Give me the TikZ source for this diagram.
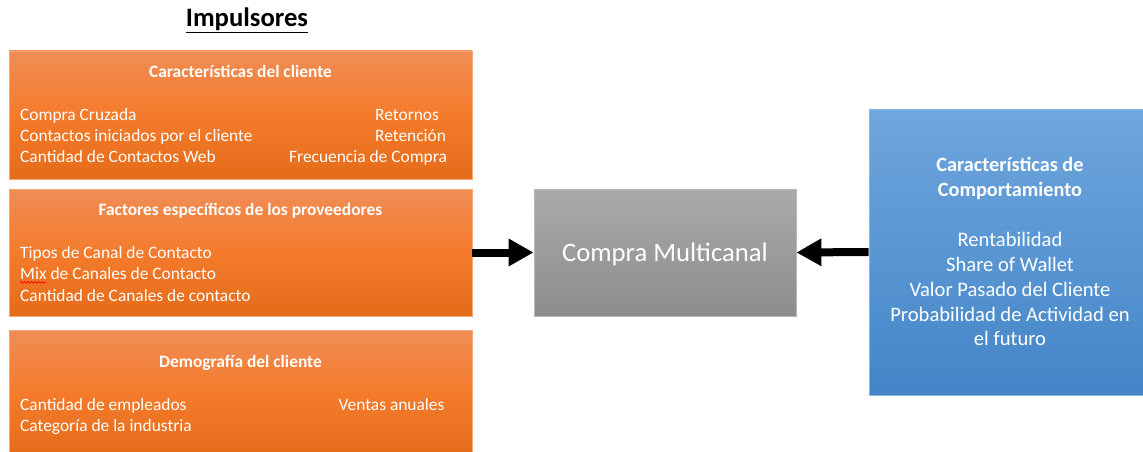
\documentclass[tikz,border=0pt]{standalone}
\usepackage{fontspec}
\setmainfont{Carlito}
\usetikzlibrary {arrows.meta}
\usetikzlibrary{decorations.pathmorphing}
\definecolor{naranjaalto}{HTML}{F08D55}
\definecolor{naranjamedio}{HTML}{F47B2B}
\definecolor{naranjabajo}{HTML}{E46C19}
\definecolor{naranjaborde}{HTML}{F5A77A}
\definecolor{grisalto}{HTML}{AAAAAA}
\definecolor{grisbajo}{HTML}{8D8D8D}
\definecolor{grisborde}{HTML}{B8B8B8}
\definecolor{azulalto}{HTML}{6FA6DD}
\definecolor{azulbajo}{HTML}{4385C7}
\definecolor{azulborde}{HTML}{8DB8E6}

\begin{document}
\begin{tikzpicture}[x=1pt,y=1pt,
		cajanaranja/.style={rectangle, inner sep=0pt, draw=naranjaborde, line width=0.8pt, top color=naranjaalto, bottom color=naranjabajo, middle color=naranjamedio},
		cajagris/.style={rectangle, inner sep=0pt, draw=grisborde, line width=0.8pt, top color=grisalto, bottom color=grisbajo},
		cajaazul/.style={rectangle, inner sep=0pt, draw=azulborde, line width=0.8pt, top color=azulalto, bottom color=azulbajo},
		encabezado/.style={text=white, inner sep=0pt, anchor=base, font=\bfseries\fontsize{17.4}{21}\selectfont},
		texto/.style={text=white, inner sep=0pt, anchor=base west, font=\fontsize{17.4}{21}\selectfont},
		textoazul/.style={text=white, inner sep=0pt, anchor=base, font=\fontsize{20.6}{25}\selectfont},
		flecha/.style={-{Triangle[length=25pt,width=26pt]}, line width=8pt},
		ondulado/.style={red, line width=0.7pt, decorate, decoration={snake, amplitude=0.9pt, segment length=3.5pt}}]
			\useasboundingbox (0,0) rectangle (1143,-452);

			% impulsores
			\node[inner sep=0pt, anchor=base, font=\bfseries\fontsize{26.67}{30}\selectfont] (titulo) at (247,-27) {\underline{Impulsores}};

			\node[cajanaranja, minimum width=463pt, minimum height=128pt] (cliente) at (240.5,-115) {};
			\node[encabezado] (tcliente) at (240.5,-77.3) {Características del cliente};
			\node[texto] (cruzada) at (20,-120.5) {Compra Cruzada};
			\node[texto] (iniciados) at (20,-141.5) {Contactos iniciados por el cliente};
			\node[texto] (web) at (20,-162.5) {Cantidad de Contactos Web};
			\node[texto] (retornos) at (375,-120.5) {Retornos};
			\node[texto] (retencion) at (375,-141.5) {Retención};
			\node[texto] (frecuencia) at (289,-162.5) {Frecuencia de Compra};

			\node[cajanaranja, minimum width=463pt, minimum height=127pt] (proveedores) at (240.5,-252.5) {};
			\node[encabezado] (tproveedores) at (240.5,-215.7) {Factores específicos de los proveedores};
			\node[texto] (tipos) at (20,-258.5) {Tipos de Canal de Contacto};
			\node[texto] (mix) at (20,-279.8) {Mix de Canales de Contacto};
			\node[texto] (canales) at (20,-301) {Cantidad de Canales de contacto};
			\draw[ondulado] ([yshift=-2.5pt]mix.base west) -- ++(26.4,0);

			\node[cajanaranja, minimum width=463pt, minimum height=126pt] (demografia) at (240.5,-393) {};
			\node[encabezado] (tdemografia) at (240.5,-367) {Demografía del cliente};
			\node[texto] (empleados) at (20,-410) {Cantidad de empleados};
			\node[texto] (industria) at (20,-431) {Categoría de la industria};
			\node[texto] (ventas) at (338.5,-410) {Ventas anuales};

			% centro
			\node[cajagris, minimum width=262pt, minimum height=127pt] (compra) at (665,-252.5) {};
			\node[text=white, inner sep=0pt, anchor=base, font=\fontsize{26.67}{32}\selectfont] (tcompra) at (665,-261) {Compra Multicanal};

			% comportamiento
			\node[cajaazul, minimum width=282pt, minimum height=286pt] (comportamiento) at (1010,-252) {};
			\node[encabezado, font=\bfseries\fontsize{20.3}{25}\selectfont] (tcomp1) at (1010,-171) {Características de};
			\node[encabezado, font=\bfseries\fontsize{20.3}{25}\selectfont] (tcomp2) at (1010,-196) {Comportamiento};
			\node[textoazul] (rentabilidad) at (1010,-246.7) {Rentabilidad};
			\node[textoazul] (wallet) at (1010,-271.5) {Share of Wallet};
			\node[textoazul] (valor) at (1010,-296.3) {Valor Pasado del Cliente};
			\node[textoazul] (probabilidad) at (1010,-321) {Probabilidad de Actividad en};
			\node[textoazul] (futuro) at (1010,-345.8) {el futuro};

			\draw[flecha] (proveedores.east) -- (compra.west);
			\draw[flecha] (comportamiento.west) -- (compra.east);
		\end{tikzpicture}
\end{document}
